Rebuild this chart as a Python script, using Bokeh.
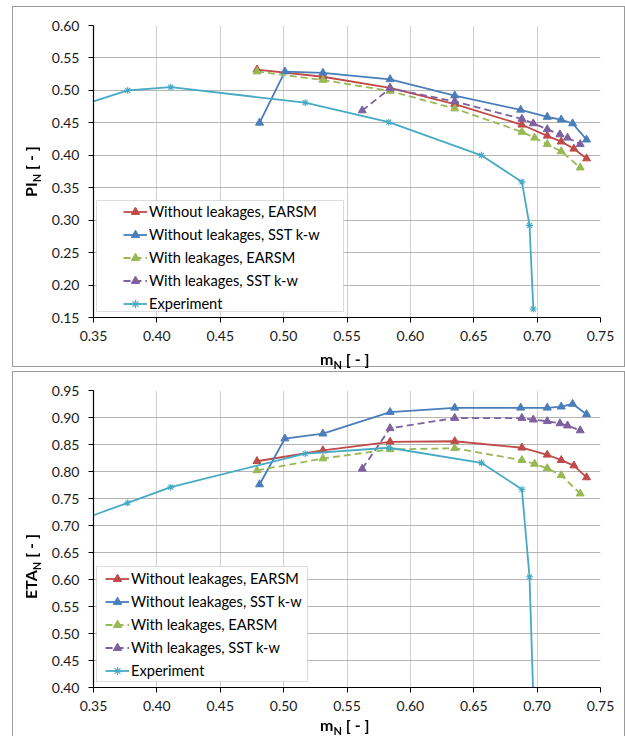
from bokeh.plotting import figure
from bokeh.layouts import column
from bokeh.models import (Range1d, FixedTicker, Legend, LegendItem, Div,
                          BoxAnnotation, PrintfTickFormatter)
from bokeh.embed import file_html
from bokeh.resources import INLINE

# ---------------- data ----------------
x_ticks = [0.35, 0.40, 0.45, 0.50, 0.55, 0.60, 0.65, 0.70, 0.75]
pi_ticks = [0.15, 0.20, 0.25, 0.30, 0.35, 0.40, 0.45, 0.50, 0.55, 0.60]
eta_ticks = [0.40, 0.45, 0.50, 0.55, 0.60, 0.65, 0.70, 0.75, 0.80, 0.85, 0.90, 0.95]

# Without leakages, EARSM
m_wo_earsm = [0.479, 0.531, 0.584, 0.635, 0.688, 0.708, 0.719, 0.729, 0.739]
pi_wo_earsm = [0.532, 0.521, 0.504, 0.479, 0.447, 0.430, 0.421, 0.410, 0.395]
eta_wo_earsm = [0.819, 0.839, 0.855, 0.856, 0.844, 0.831, 0.821, 0.811, 0.789]

# Without leakages, SST k-w
m_wo_sst = [0.481, 0.501, 0.531, 0.584, 0.635, 0.687, 0.708, 0.719, 0.728, 0.739]
pi_wo_sst = [0.450, 0.529, 0.527, 0.517, 0.492, 0.470, 0.459, 0.455, 0.449, 0.424]
eta_wo_sst = [0.776, 0.861, 0.870, 0.910, 0.918, 0.918, 0.918, 0.920, 0.925, 0.906]

# With leakages, EARSM
m_w_earsm = [0.479, 0.531, 0.584, 0.635, 0.688, 0.698, 0.708, 0.719, 0.734]
pi_w_earsm = [0.529, 0.516, 0.499, 0.472, 0.436, 0.427, 0.417, 0.406, 0.381]
eta_w_earsm = [0.802, 0.824, 0.841, 0.843, 0.821, 0.814, 0.806, 0.793, 0.759]

# With leakages, SST k-w
m_w_sst = [0.562, 0.584, 0.635, 0.688, 0.697, 0.708, 0.718, 0.724, 0.734]
pi_w_sst = [0.469, 0.503, 0.483, 0.456, 0.449, 0.440, 0.432, 0.427, 0.417]
eta_w_sst = [0.805, 0.880, 0.899, 0.899, 0.896, 0.893, 0.889, 0.885, 0.876]

# Experiment
m_exp = [0.350, 0.377, 0.411, 0.517, 0.583, 0.656, 0.688, 0.694, 0.697]
pi_exp = [0.483, 0.500, 0.505, 0.481, 0.451, 0.400, 0.359, 0.292, 0.163]
eta_exp = [0.719, 0.742, 0.771, 0.833, 0.844, 0.816, 0.767, 0.605, 0.380]

series_names = ["Without leakages, EARSM", "Without leakages, SST k-w",
                "With leakages, EARSM", "With leakages, SST k-w", "Experiment"]

# ---------------- styles ----------------
FONT = "Lato"
RED = "#BE4B48"
BLUE = "#4A7EBB"
GREEN = "#98B954"
PURPLE = "#7D60A0"
AQUA = "#46AAC5"


def make_panel(yvals, y_ticks, y_range, height, b_top, b_bottom, top_margin,
               legend_loc, box):
    p = figure(width=612, height=height, output_backend="svg",
               toolbar_location=None,
               x_range=Range1d(x_ticks[0], x_ticks[-1]),
               y_range=Range1d(*y_range),
               min_border_left=81, min_border_right=24,
               min_border_top=b_top, min_border_bottom=b_bottom)
    p.margin = (top_margin, 0, 0, 12)
    p.outline_line_color = None
    p.background_fill_color = "white"
    p.border_fill_color = "white"

    p.xaxis.ticker = FixedTicker(ticks=x_ticks)
    p.yaxis.ticker = FixedTicker(ticks=y_ticks)
    p.xaxis.formatter = PrintfTickFormatter(format="%.2f")
    p.yaxis.formatter = PrintfTickFormatter(format="%.2f")
    for ax in (p.xaxis, p.yaxis):
        ax.axis_line_color = "black"
        ax.axis_line_width = 1.2
        ax.major_tick_line_color = "black"
        ax.major_tick_in = 0
        ax.major_tick_out = 5
        ax.minor_tick_line_color = None
        ax.major_label_text_font = FONT
        ax.major_label_text_font_size = "14px"
        ax.major_label_text_color = "#1a1a1a"
    p.xaxis.major_label_standoff = 8
    p.yaxis.major_label_standoff = 9
    p.xgrid.grid_line_color = "#D0D0D0"
    p.ygrid.grid_line_color = "#B4B4B4"

    specs = [
        (m_wo_earsm, yvals[0], RED, "solid", "triangle"),
        (m_wo_sst, yvals[1], BLUE, "solid", "triangle"),
        (m_w_earsm, yvals[2], GREEN, "7 4", "triangle"),
        (m_w_sst, yvals[3], PURPLE, "7 4", "triangle"),
        (m_exp, yvals[4], AQUA, "solid", "asterisk"),
    ]
    items = []
    for name, (xs, ys, col, dash, mk) in zip(series_names, specs):
        r_line = p.line(xs, ys, line_color=col, line_width=1.8, line_dash=dash)
        if mk == "triangle":
            r_pt = p.scatter(xs, ys, marker="triangle", size=8,
                             fill_color=col, line_color=col)
        else:
            # first experimental point lies left of the axis range (clipped)
            r_pt = p.scatter(xs[1:], ys[1:], marker="asterisk", size=7,
                             line_color=col, line_width=1.1)
        items.append(LegendItem(label=name, renderers=[r_line, r_pt]))

    bl, br, bb, bt = box
    p.add_layout(BoxAnnotation(left=bl, right=br, bottom=bb, top=bt,
                               left_units="screen", right_units="screen",
                               bottom_units="screen", top_units="screen",
                               fill_color="white", fill_alpha=1.0,
                               line_color="#8C8C8C", line_width=1))
    legend = Legend(items=items, location=legend_loc, padding=0, margin=0,
                    spacing=2, glyph_width=24, glyph_height=21,
                    label_height=21, label_standoff=2,
                    label_text_font=FONT, label_text_font_size="14.6px",
                    label_text_color="black",
                    border_line_alpha=0, background_fill_alpha=0)
    p.add_layout(legend)
    return p


p1 = make_panel([pi_wo_earsm, pi_wo_sst, pi_w_earsm, pi_w_sst, pi_exp],
                pi_ticks, (0.15, 0.60), 362, 19, 51, 5, (30, 3), (3, 250, 6, 117))
p2 = make_panel([eta_wo_earsm, eta_wo_sst, eta_w_earsm, eta_w_sst, eta_exp],
                eta_ticks, (0.40, 0.95), 367, 22, 48, 0, (12, 6), (3, 214, 6, 121))

# ---------------- axis titles (with subscripts) and chart-area borders ----------------
SUB = '<sub style="font-size:11px;vertical-align:-4px;line-height:0">N</sub>'


def title_span(left, top, main, rotate=False):
    style = ("position:fixed;left:%dpx;top:%dpx;font-family:Lato;font-weight:bold;"
             "font-size:16px;line-height:16px;white-space:nowrap;color:#000;z-index:20;"
             % (left, top))
    if rotate:
        style += "transform-origin:0 0;transform:rotate(-90deg);"
    return '<span style="%s">%s%s [ - ]</span>' % (style, main, SUB)


def frame_box(left, top, w, h):
    return ('<div style="position:fixed;left:%dpx;top:%dpx;width:%dpx;height:%dpx;'
            'border:1px solid #9A9A9A;box-sizing:border-box;pointer-events:none;'
            'z-index:15;"></div>' % (left, top, w, h))


html = "".join([
    frame_box(12, 6, 613, 361),
    frame_box(12, 371, 613, 370),
    title_span(320, 351, "m"),
    title_span(320, 717, "m"),
    title_span(23, 197, "PI", rotate=True),
    title_span(23, 599, "ETA", rotate=True),
])
overlay = Div(text=html, width=1, height=1, margin=0,
              styles={"position": "relative", "z-index": "10"})

layout = column(overlay, p1, p2, spacing=0)
open("out.html", "w").write(file_html(layout, INLINE))
